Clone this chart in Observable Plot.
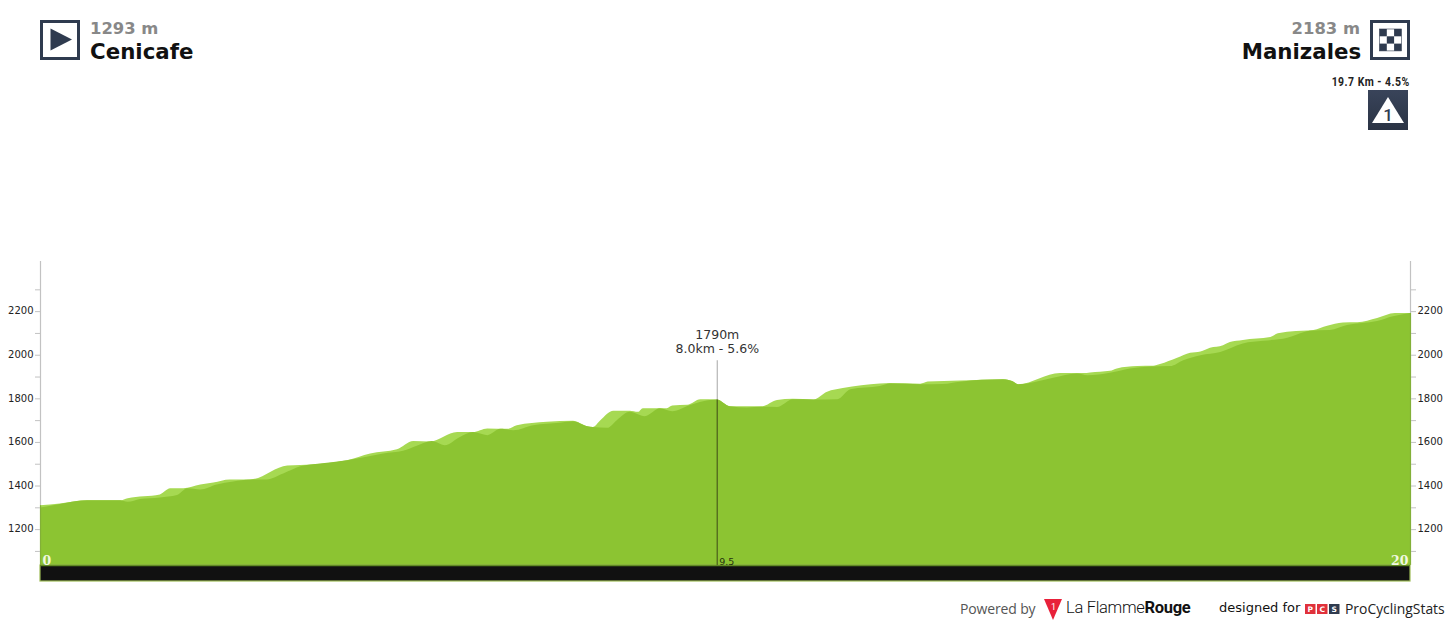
<!DOCTYPE html>
<html>
<head>
<meta charset="utf-8">
<script src="https://cdn.jsdelivr.net/npm/d3@7"></script>
<script src="https://cdn.jsdelivr.net/npm/@observablehq/plot@0.6"></script>
<style>
html,body{margin:0;padding:0;background:#fff;overflow:hidden}
#page{position:relative;width:1450px;height:625px;font-family:"DejaVu Sans",sans-serif}
#page svg{display:block}
.abs{position:absolute;white-space:nowrap}
.ele{font-weight:700;font-size:16.4px;line-height:18px;color:#888}
.name{font-weight:700;font-size:22px;line-height:24px;color:#111;transform:scaleX(.97)}
</style>
</head>
<body>
<div id="page"></div>
<script>
const mainKm = [0,.15,.39,.69,1.17,1.28,1.46,1.75,2.0,2.15,2.34,2.58,2.82,3.07,3.31,3.55,3.80,4.09,4.48,4.82,5.01,5.30,5.50,5.72,5.91,6.13,6.32,6.53,6.72,6.91,7.20,7.59,7.78,7.99,8.07,8.28,8.42,8.61,8.83,9.05,9.23,9.49,9.68,9.88,10.07,10.32,10.54,10.76,10.99,11.29,11.64,11.83,12.26,12.41,12.85,13.18,13.43,14.06,14.19,14.28,14.41,14.79,15.14,15.29,15.62,15.91,16.21,16.50,16.69,16.94,17.23,17.56,17.86,18.21,18.35,18.54,18.83,19.08,19.52,19.75,20];
const mainEle = [1299,1307,1321,1332,1332,1325,1338,1345,1356,1387,1382,1405,1419,1428,1428,1455,1488,1501,1516,1535,1547,1559,1582,1604,1585,1623,1645,1631,1660,1654,1677,1688,1695,1672,1668,1665,1700,1738,1718,1754,1741,1769,1787,1795,1764,1758,1761,1760,1796,1795,1796,1842,1857,1868,1865,1866,1876,1887,1880,1865,1868,1894,1914,1906,1917,1937,1946,1948,1975,1998,2013,2052,2064,2078,2093,2110,2113,2136,2155,2177,2192];
const lightKm = [0,.29,.69,1.17,1.28,1.75,1.90,2.09,2.34,2.53,2.77,3.07,3.61,3.80,4.48,4.82,5.21,5.45,5.69,6.09,6.32,6.53,6.83,6.96,7.40,7.78,7.99,8.07,8.18,8.37,8.61,8.73,8.80,9.15,9.23,9.45,9.64,9.88,10.07,10.54,10.76,10.99,11.29,11.49,11.72,12.26,12.41,12.85,12.96,13.43,14.06,14.19,14.28,14.89,15.23,15.33,15.62,15.72,16.02,16.25,16.35,16.60,16.79,16.94,17.08,17.27,17.37,17.56,17.96,18.07,18.25,18.59,18.79,19.02,19.23,19.52,19.78,20];
const lightEle = [1310,1318,1332,1332,1342,1359,1387,1388,1405,1414,1428,1428,1492,1494,1516,1547,1566,1604,1602,1646,1645,1662,1660,1676,1692,1697,1672,1669,1700,1743,1743,1738,1755,1755,1767,1770,1796,1795,1764,1764,1792,1798,1795,1830,1847,1868,1870,1867,1877,1882,1888,1880,1865,1916,1916,1919,1926,1937,1948,1949,1957,1986,2009,2015,2032,2044,2058,2068,2081,2098,2107,2114,2133,2148,2149,2169,2192,2192];
const majorTicks = [1200,1400,1600,1800,2000,2200];
const minorTicks = [1100,1300,1500,1700,1900,2100,2300];
const summitKm = 9.88, summitEle = 1795, summitTop = 1975;
const summitLabel = "1790m\n8.0km - 5.6%";
const kmMarkLabel = "9.5";
const baseEle = 1035, floorEle = 962, topEle = 2430;
const kmDomain = [0,20];
const startLabel = "0", endLabel = "20";

const main = mainKm.map((k,i)=>({k,e:mainEle[i]}));
const light = lightKm.map((k,i)=>({k,e:lightEle[i]}));
const gridGrey = "#c2c2c2";
const edges = [{k:kmDomain[0],e:lightEle[0]},{k:kmDomain[1],e:lightEle[lightEle.length-1]}];
const labelAxis = a => Plot.axisY({anchor:a,ticks:majorTicks,tickSize:0,tickPadding:7,dy:-0.5,tickFormat:d=>String(d),label:null,fontSize:10,fontFamily:"DejaVu Sans",color:"#222"});
const tickAxis = (a,t) => Plot.axisY({anchor:a,ticks:t,tickSize:5,tickFormat:()=>"",label:null,stroke:gridGrey});

const chart = Plot.plot({
  width:1450, height:625,
  marginLeft:40, marginRight:40, marginTop:261, marginBottom:44,
  style:{background:"transparent",overflow:"visible"},
  x:{type:"linear",domain:kmDomain, axis:null},
  y:{type:"linear",domain:[floorEle,topEle], axis:null},
  marks:[
    Plot.areaY(light,{x:"k",y1:baseEle,y2:"e",fill:"#a6d952",curve:"monotone-x"}),
    Plot.areaY(main,{x:"k",y1:baseEle,y2:"e",fill:"#8cc432",curve:"monotone-x"}),
    Plot.ruleX(edges,{x:"k",y1:"e",y2:topEle,stroke:gridGrey,strokeWidth:1.2}),
    Plot.ruleX(edges,{x:"k",y1:baseEle,y2:"e",stroke:"#82b038",strokeWidth:1.2}),
    Plot.rect([0],{x1:kmDomain[0],x2:kmDomain[1],y1:floorEle,y2:baseEle,fill:"#111111",stroke:"#9dbb55",strokeWidth:1.2}),
    Plot.ruleY([baseEle],{x1:kmDomain[0],x2:kmDomain[1],stroke:"#5f8a22",strokeWidth:1.5}),
    Plot.ruleX([summitKm],{y1:summitEle,y2:summitTop,stroke:"#b5b5b5",strokeWidth:1.2}),
    Plot.ruleX([summitKm],{y1:baseEle,y2:summitEle,stroke:"#56701f",strokeWidth:1.5}),
    Plot.text([summitLabel],{x:summitKm,y:summitTop,lineAnchor:"bottom",dy:-8,fontSize:12.5,lineHeight:1.12,fill:"#333",fontFamily:"DejaVu Sans"}),
    Plot.text([kmMarkLabel],{x:summitKm,y:baseEle,textAnchor:"start",lineAnchor:"bottom",dx:2,dy:-1,fontSize:9.5,fill:"#26330f",fontFamily:"DejaVu Sans"}),
    Plot.text([startLabel],{x:kmDomain[0],y:baseEle,textAnchor:"start",lineAnchor:"bottom",dx:2,dy:-1,fontSize:12.5,fontWeight:700,fill:"#f1f8e0",fontFamily:"DejaVu Serif"}),
    Plot.text([endLabel],{x:kmDomain[1],y:baseEle,textAnchor:"end",lineAnchor:"bottom",dx:-2,dy:-1,fontSize:12.5,fontWeight:700,fill:"#f1f8e0",fontFamily:"DejaVu Serif"}),
    labelAxis("left"), labelAxis("right"),
    tickAxis("left",majorTicks), tickAxis("right",majorTicks),
    tickAxis("left",minorTicks), tickAxis("right",minorTicks)
  ]
});
document.getElementById("page").appendChild(chart);

const overlay = `
<svg class="abs" style="left:40px;top:20px" width="40" height="40"><rect x="1.5" y="1.5" width="37" height="37" fill="#fff" stroke="#2f3b4f" stroke-width="3"/><path d="M10.5 8.5 L32 19.5 L10.5 30.5Z" fill="#2f3b4f"/></svg>
<div class="abs ele" style="left:90px;top:20px">1293 m</div>
<div class="abs name" style="left:90px;top:40px;transform-origin:left center">Cenicafe</div>
<svg class="abs" style="left:1370px;top:20px" width="40" height="40"><rect x="1.5" y="1.5" width="37" height="37" fill="#fff" stroke="#2f3b4f" stroke-width="3"/><g fill="#2f3b4f"><rect x="9.5" y="9" width="7.3" height="7.3"/><rect x="24.1" y="9" width="7.3" height="7.3"/><rect x="16.8" y="16.3" width="7.3" height="7.3"/><rect x="9.5" y="23.6" width="7.3" height="7.3"/><rect x="24.1" y="23.6" width="7.3" height="7.3"/></g><rect x="9.5" y="9" width="21.9" height="21.9" fill="none" stroke="#2f3b4f" stroke-width="0.6"/></svg>
<div class="abs ele" style="right:90px;top:20px">2183 m</div>
<div class="abs name" style="right:89px;top:40px;transform-origin:right center">Manizales</div>
<div class="abs" style="right:40px;top:75px;font:700 12px Roboto;color:#222;letter-spacing:.55px;transform:scaleX(.87);transform-origin:right center">19.7 Km - 4.5%</div>
<svg class="abs" style="left:1368px;top:90px" width="40" height="40"><defs><linearGradient id="cg" x1="0" y1="0" x2="0" y2="1"><stop offset="0" stop-color="#39445a"/><stop offset="1" stop-color="#2a3344"/></linearGradient></defs><rect width="40" height="40" fill="url(#cg)"/><path d="M20 7 L36 33 L4 33Z" fill="#fff"/><text x="20" y="31" text-anchor="middle" font-family="Roboto" font-size="17" font-weight="500" fill="#2f3b4f">1</text></svg>
<div class="abs" style="left:960px;top:599px;font:14px 'Open Sans';color:#555;letter-spacing:-.15px">Powered by</div>
<svg class="abs" style="left:1043px;top:598px" width="20" height="23"><path d="M1 1 L19 1 L10 22Z" fill="#e8213a"/><text x="10.5" y="12" text-anchor="middle" font-family="Roboto" font-size="9" fill="#fff">1</text></svg>
<div class="abs" style="left:1066px;top:598px;font:300 16.5px Roboto;color:#111;letter-spacing:-.3px">La Flamme<span style="font-weight:700">Rouge</span></div>
<div class="abs" style="left:1219px;top:600px;font:500 13px 'DejaVu Sans';color:#111">designed for</div>
<svg class="abs" style="left:1305px;top:604px" width="36" height="10"><rect width="10.5" height="10" fill="#e0313b"/><rect x="12" width="10.5" height="10" fill="#e0313b"/><rect x="24" width="10.5" height="10" fill="#2f3b4f"/><g font-family="DejaVu Sans" font-size="7.5" font-weight="700" fill="#fff" text-anchor="middle"><text x="5.2" y="8">P</text><text x="17.2" y="8">C</text><text x="29.2" y="8">S</text></g></svg>
<div class="abs" style="left:1345px;top:599px;font:13.9px 'Open Sans';color:#222">ProCyclingStats</div>`;
document.getElementById("page").insertAdjacentHTML("beforeend", overlay);
</script>
</body>
</html>
